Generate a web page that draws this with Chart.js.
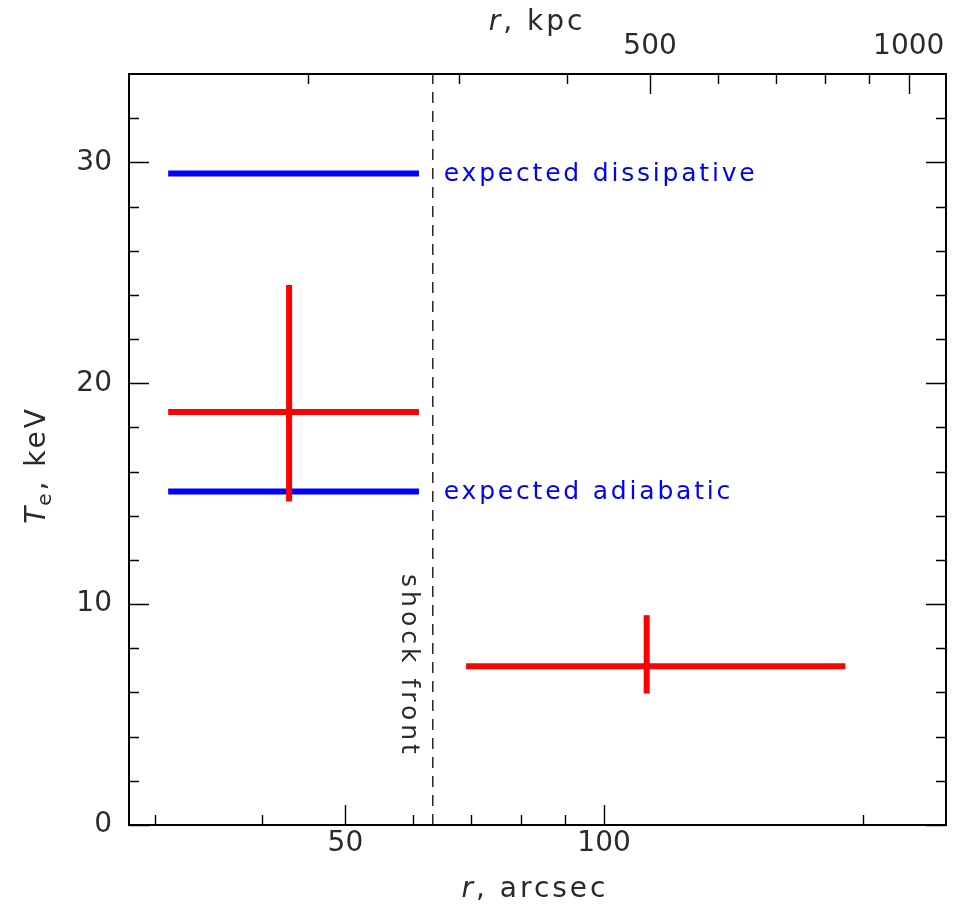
<!DOCTYPE html>
<html>
<head>
<meta charset="utf-8">
<script src="https://cdn.jsdelivr.net/npm/chart.js@4/dist/chart.umd.min.js"></script>
<style>
  html, body { margin: 0; padding: 0; background: #fff; }
  #c { display: block; }
</style>
</head>
<body>
<canvas id="c" width="970" height="907"></canvas>
<script>
// ---------------- data ----------------
const modelLabels = ['expected dissipative', 'expected adiabatic'];
const modelT      = [29.5, 15.1];      // keV
const modelRmin   = [31.1, 31.1];      // arcsec
const modelRmax   = [60.9, 60.9];      // arcsec

const obsR    = [43.0, 112.1];         // arcsec (centre)
const obsRlo  = [31.1, 69.1];
const obsRhi  = [60.9, 190.9];
const obsT    = [18.7, 7.19];          // keV
const obsTlo  = [14.65, 5.95];
const obsThi  = [24.45, 9.5];

const shockR = 63.2;                   // arcsec
const shockLabel = 'shock front';

const kpcPerArcsec = 4.42;
const arcsecRange = [28, 250];
const arcsecTicks = [30, 40, 50, 60, 70, 80, 90, 100, 200];
const arcsecMajor = [50, 100];
const kpcTicks = [200, 300, 400, 500, 600, 700, 800, 900, 1000];
const kpcMajor = [500, 1000];
const tRange = [0, 34];
const tTicks = [0, 2, 4, 6, 8, 10, 12, 14, 16, 18, 20, 22, 24, 26, 28, 30, 32];
const tMajor = [0, 10, 20, 30];

// ---------------- datasets ----------------
const RED = '#ff0000', BLUE = '#0000ff';
const datasets = [];
obsR.forEach((r, i) => {
  datasets.push({ data: [{x: obsRlo[i], y: obsT[i]}, {x: obsRhi[i], y: obsT[i]}], borderColor: RED });
  datasets.push({ data: [{x: r, y: obsTlo[i]}, {x: r, y: obsThi[i]}], borderColor: RED });
});
modelT.forEach((t, i) => {
  datasets.push({ data: [{x: modelRmin[i], y: t}, {x: modelRmax[i], y: t}], borderColor: BLUE });
});
datasets.push({ data: [{x: shockR, y: tRange[0]}, {x: shockR, y: tRange[1]}],
  borderColor: '#000', borderWidth: 1.3, borderDash: [11, 8] });

datasets.forEach(d => {
  d.pointRadius = 0;
  d.borderWidth = d.borderWidth || 6;
  d.borderCapStyle = 'butt';
  d.fill = false;
  d.tension = 0;
  d.clip = false;
});

const FONT = 'DejaVu Sans';
const tickFont = { family: FONT, size: 28 };
const TXT = '#2a2a2a';

// ---------------- plugin: inward ticks + text ----------------
const decor = {
  id: 'decor',
  afterDraw(chart) {
    const ctx = chart.ctx;
    const {x, x2, y} = chart.scales;
    const a = chart.chartArea;
    ctx.save();
    ctx.strokeStyle = '#000';
    ctx.lineWidth = 1.4;
    const MAJ = 20, MIN = 10;
    ctx.beginPath();
    arcsecTicks.forEach(v => {
      const p = Math.round(x.getPixelForValue(v)) + 0.5;
      const L = arcsecMajor.includes(v) ? MAJ : MIN;
      ctx.moveTo(p, a.bottom); ctx.lineTo(p, a.bottom - L);
    });
    kpcTicks.forEach(v => {
      const p = Math.round(x2.getPixelForValue(v)) + 0.5;
      const L = kpcMajor.includes(v) ? MAJ : MIN;
      ctx.moveTo(p, a.top); ctx.lineTo(p, a.top + L);
    });
    tTicks.forEach(v => {
      const p = Math.round(y.getPixelForValue(v)) + 0.5;
      const L = tMajor.includes(v) ? MAJ : MIN;
      ctx.moveTo(a.left, p); ctx.lineTo(a.left + L, p);
      ctx.moveTo(a.right, p); ctx.lineTo(a.right - L, p);
    });
    ctx.stroke();

    // model labels
    ctx.fillStyle = BLUE;
    ctx.font = '25px ' + FONT;
    ctx.letterSpacing = '2.8px';
    ctx.textBaseline = 'middle';
    ctx.textAlign = 'left';
    const xs = x.getPixelForValue(shockR);
    modelLabels.forEach((s, i) => {
      ctx.fillText(s, xs + 11, y.getPixelForValue(modelT[i]) + 1);
    });

    // shock front label (rotated, reading downward)
    ctx.fillStyle = TXT;
    ctx.save();
    ctx.translate(xs - 24, 666);
    ctx.rotate(Math.PI / 2);
    ctx.textAlign = 'center';
    ctx.letterSpacing = '4px';
    ctx.fillText(shockLabel, 0, 0);
    ctx.restore();

    // axis titles
    const drawParts = (parts, cx, cy, rot) => {
      ctx.save();
      ctx.translate(cx, cy);
      ctx.rotate(rot);
      ctx.textBaseline = 'alphabetic';
      ctx.textAlign = 'left';
      let total = 0;
      parts.forEach(p => { ctx.font = p.f; ctx.letterSpacing = p.ls; total += ctx.measureText(p.t).width; });
      let xx = -total / 2;
      parts.forEach(p => {
        ctx.font = p.f; ctx.letterSpacing = p.ls;
        ctx.fillText(p.t, xx, p.dy || 0);
        xx += ctx.measureText(p.t).width;
      });
      ctx.restore();
    };
    ctx.fillStyle = TXT;
    drawParts([{t: 'r', f: 'italic 28px ' + FONT, ls: '3px'}, {t: ', arcsec', f: '28px ' + FONT, ls: '3px'}], 535, 897, 0);
    drawParts([{t: 'r', f: 'italic 28px ' + FONT, ls: '3px'}, {t: ', kpc', f: '28px ' + FONT, ls: '3px'}], 537, 30, 0);
    drawParts([{t: 'T', f: 'italic 28px ' + FONT, ls: '1px'}, {t: 'e', f: '20px ' + FONT, ls: '3px', dy: 6},
               {t: ', keV', f: '28px ' + FONT, ls: '3px'}], 45, 465, -Math.PI / 2);
    ctx.restore();
  }
};

const setTicks = (list) => (s) => { s.ticks = list.map(v => ({ value: v })); };

new Chart(document.getElementById('c'), {
  type: 'line',
  data: { datasets },
  options: {
    responsive: false,
    animation: false,
    events: [],
    layout: { padding: 0 },
    plugins: { legend: { display: false }, tooltip: { enabled: false } },
    scales: {
      x: {
        type: 'logarithmic', position: 'bottom',
        min: arcsecRange[0], max: arcsecRange[1],
        afterBuildTicks: setTicks(arcsecTicks),
        afterFit: s => { s.height = 907 - 825; },
        ticks: { font: tickFont, color: TXT, padding: 2, maxRotation: 0, autoSkip: false,
                 callback: v => arcsecMajor.includes(v) ? String(v) : '' },
        grid: { drawOnChartArea: false, drawTicks: false },
        border: { display: true, color: '#000', width: 2 }
      },
      x2: {
        type: 'logarithmic', position: 'top',
        min: arcsecRange[0] * kpcPerArcsec, max: arcsecRange[1] * kpcPerArcsec,
        afterBuildTicks: setTicks(kpcTicks),
        afterFit: s => { s.height = 74; },
        ticks: { font: tickFont, color: TXT, padding: 10, maxRotation: 0, autoSkip: false,
                 callback: v => kpcMajor.includes(v) ? String(v) : '' },
        grid: { drawOnChartArea: false, drawTicks: false },
        border: { display: true, color: '#000', width: 2 }
      },
      y: {
        type: 'linear', position: 'left',
        min: tRange[0], max: tRange[1],
        afterBuildTicks: setTicks(tTicks),
        afterFit: s => { s.width = 129; },
        ticks: { font: tickFont, color: TXT, padding: 17,
                 callback: v => tMajor.includes(v) ? String(v) : '' },
        grid: { drawOnChartArea: false, drawTicks: false },
        border: { display: true, color: '#000', width: 2 }
      },
      y2: {
        type: 'linear', position: 'right',
        min: tRange[0], max: tRange[1],
        afterFit: s => { s.width = 970 - 946; },
        ticks: { display: false },
        grid: { drawOnChartArea: false, drawTicks: false },
        border: { display: true, color: '#000', width: 2 }
      }
    }
  },
  plugins: [decor]
});
</script>
</body>
</html>
